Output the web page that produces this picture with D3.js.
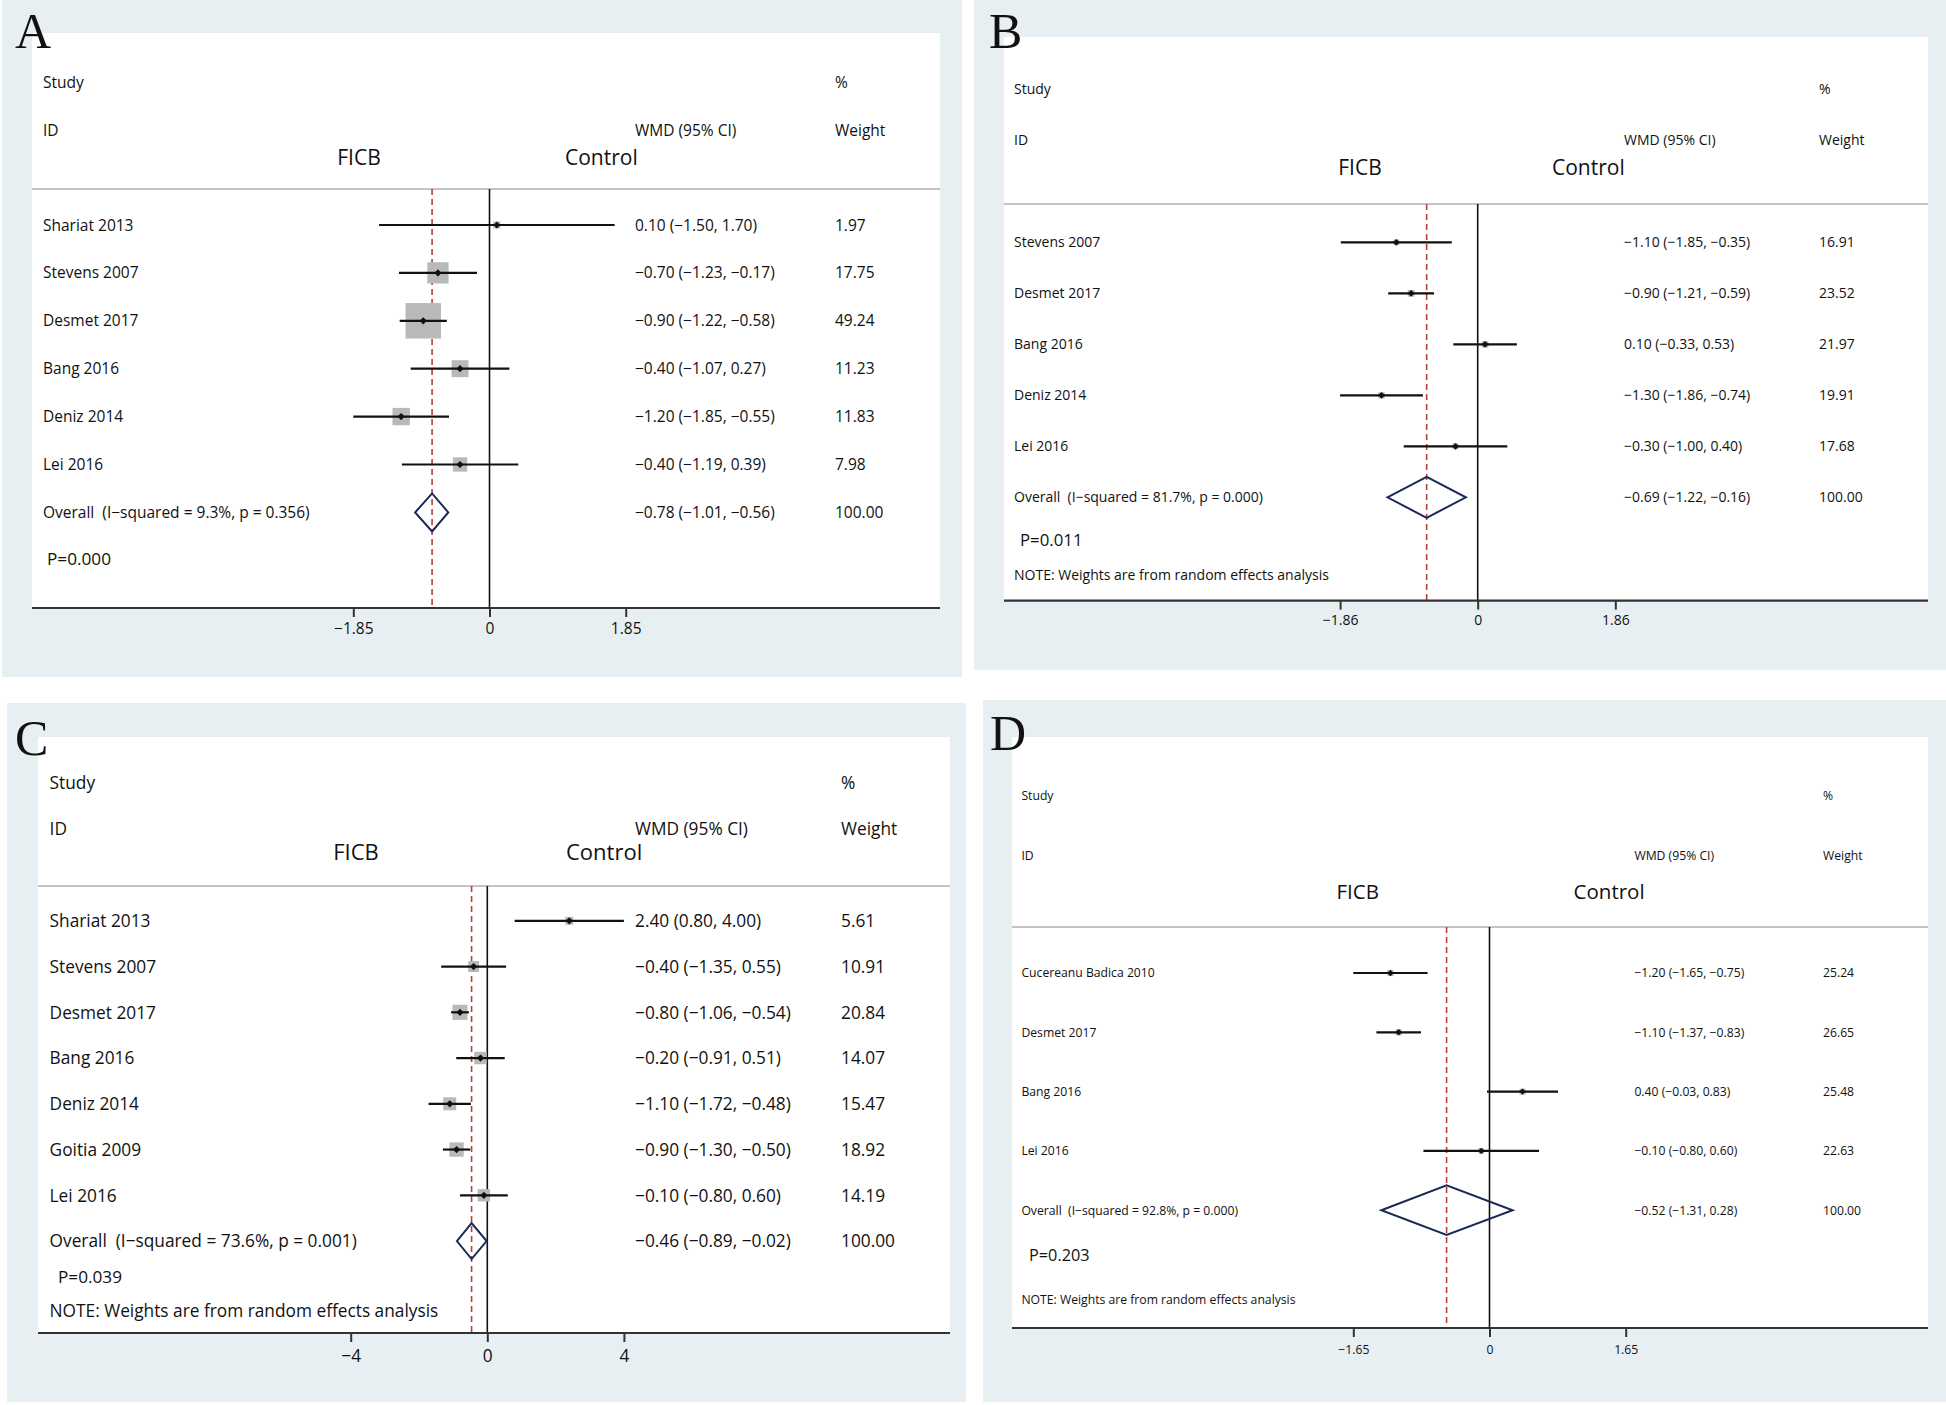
<!DOCTYPE html>
<html>
<head>
<meta charset="utf-8">
<script src="https://cdn.jsdelivr.net/npm/d3@7"></script>
<style>
  body { margin: 0; background: #fff; }
  svg text { font-family: "Open Sans", sans-serif; fill: #111; }
</style>
</head>
<body>
<svg id="chart" width="1946" height="1405"></svg>
<script>
// ---- data ----
var studiesA = ["Shariat 2013", "Stevens 2007", "Desmet 2017", "Bang 2016", "Deniz 2014", "Lei 2016"];
var wmdA     = [0.10, -0.70, -0.90, -0.40, -1.20, -0.40];
var lowA     = [-1.50, -1.23, -1.22, -1.07, -1.85, -1.19];
var highA    = [1.70, -0.17, -0.58, 0.27, -0.55, 0.39];
var weightA  = [1.97, 17.75, 49.24, 11.23, 11.83, 7.98];

var studiesB = ["Stevens 2007", "Desmet 2017", "Bang 2016", "Deniz 2014", "Lei 2016"];
var wmdB     = [-1.10, -0.90, 0.10, -1.30, -0.30];
var lowB     = [-1.85, -1.21, -0.33, -1.86, -1.00];
var highB    = [-0.35, -0.59, 0.53, -0.74, 0.40];
var weightB  = [16.91, 23.52, 21.97, 19.91, 17.68];

var studiesC = ["Shariat 2013", "Stevens 2007", "Desmet 2017", "Bang 2016", "Deniz 2014", "Goitia 2009", "Lei 2016"];
var wmdC     = [2.40, -0.40, -0.80, -0.20, -1.10, -0.90, -0.10];
var lowC     = [0.80, -1.35, -1.06, -0.91, -1.72, -1.30, -0.80];
var highC    = [4.00, 0.55, -0.54, 0.51, -0.48, -0.50, 0.60];
var weightC  = [5.61, 10.91, 20.84, 14.07, 15.47, 18.92, 14.19];

var studiesD = ["Cucereanu Badica 2010", "Desmet 2017", "Bang 2016", "Lei 2016"];
var wmdD     = [-1.20, -1.10, 0.40, -0.10];
var lowD     = [-1.65, -1.37, -0.03, -0.80];
var highD    = [-0.75, -0.83, 0.83, 0.60];
var weightD  = [25.24, 26.65, 25.48, 22.63];

// overall (pooled) rows, panels A..D
var overallWmd  = [-0.78, -0.69, -0.46, -0.52];
var overallLow  = [-1.01, -1.22, -0.89, -1.31];
var overallHigh = [-0.56, -0.16, -0.02, 0.28];
var iSquared    = [9.3, 81.7, 73.6, 92.8];
var pHetero     = [0.356, 0.000, 0.001, 0.000];
var pOverall    = [0.000, 0.011, 0.039, 0.203];
var hasNote     = [false, true, true, true];
var panelLetters = ["A", "B", "C", "D"];

var ticksA = [-1.85, 0, 1.85];
var ticksB = [-1.86, 0, 1.86];
var ticksC = [-4, 0, 4];
var ticksD = [-1.65, 0, 1.65];

var noteText = "NOTE: Weights are from random effects analysis";

// ---- layout of each panel (pixel positions only) ----
var layouts = [
  { bg: [2, 0, 962, 677], plot: [32, 33, 940, 608], letter: [15, 48],
    fs: 15.5, armFs: 21, pFs: 17.2, cols: [43, 635, 835],
    studyY: 88, idY: 136, armY: 165, ficbX: 359, controlX: 565, lineY: 189,
    rowY0: 225, rowStep: 47.9, pX: 47, pY: 565, noteY: null,
    xr: [353.3, 625.7], boxK: 5.05, diaH: 19, mark: 3.6, tickPad: 6 },
  { bg: [974, 0, 1946, 670], plot: [1004, 37, 1928, 600.6], letter: [989, 48],
    fs: 14, armFs: 21, pFs: 16.8, cols: [1014, 1624, 1819],
    studyY: 94, idY: 145, armY: 175, ficbX: 1360, controlX: 1552, lineY: 204,
    rowY0: 242.3, rowStep: 51, pX: 1020, pY: 546, noteY: 580,
    xr: [1340.1, 1615.3], boxK: 1.4, diaH: 20.5, mark: 3.4, tickPad: 5 },
  { bg: [7, 703, 966, 1402], plot: [38, 737, 950, 1333], letter: [15, 755],
    fs: 17.3, armFs: 22, pFs: 17.2, cols: [49.6, 635, 841],
    studyY: 789, idY: 835, armY: 860, ficbX: 356, controlX: 566, lineY: 886,
    rowY0: 920.8, rowStep: 45.75, pX: 58, pY: 1283, noteY: 1317,
    xr: [350.7, 623.9], boxK: 3.3, diaH: 18, mark: 3.6, tickPad: 7.5 },
  { bg: [983, 700, 1946, 1402], plot: [1012, 737, 1928, 1328], letter: [990, 750],
    fs: 12.2, armFs: 20.5, pFs: 16.3, cols: [1021.4, 1634.4, 1823],
    studyY: 800, idY: 860, armY: 899, ficbX: 1357.7, controlX: 1573.6, lineY: 927,
    rowY0: 973, rowStep: 59.3, pX: 1029, pY: 1261, noteY: 1304,
    xr: [1353.3, 1625.7], boxK: 1.2, diaH: 24.8, mark: 3.2, tickPad: 8 }
];

var panels = [
  { studies: studiesA, wmd: wmdA, low: lowA, high: highA, weight: weightA, ticks: ticksA },
  { studies: studiesB, wmd: wmdB, low: lowB, high: highB, weight: weightB, ticks: ticksB },
  { studies: studiesC, wmd: wmdC, low: lowC, high: highC, weight: weightC, ticks: ticksC },
  { studies: studiesD, wmd: wmdD, low: lowD, high: highD, weight: weightD, ticks: ticksD }
];

var svg = d3.select("#chart");
var f2 = d3.format(".2f");      // d3 uses the proper minus sign
var pctFmt = d3.format(".1f");
var p3 = d3.format(".3f");

function ciText(m, lo, hi) {
  return f2(m) + " (" + f2(lo) + ", " + f2(hi) + ")";
}

function drawPanel(k) {
  var L = layouts[k], P = panels[k];
  var g = svg.append("g");
  var n = P.studies.length;

  // background + white plot area
  g.append("rect").attr("x", L.bg[0]).attr("y", L.bg[1])
    .attr("width", L.bg[2] - L.bg[0]).attr("height", L.bg[3] - L.bg[1])
    .attr("fill", "#e8eff2");
  g.append("rect").attr("x", L.plot[0]).attr("y", L.plot[1])
    .attr("width", L.plot[2] - L.plot[0]).attr("height", L.plot[3] - L.plot[1])
    .attr("fill", "#fff");

  g.append("text").attr("x", L.letter[0]).attr("y", L.letter[1])
    .style("font-family", "'Liberation Serif', 'DejaVu Serif', serif")
    .style("font-size", "50px").text(panelLetters[k]);

  var x = d3.scaleLinear().domain([P.ticks[0], P.ticks[2]]).range(L.xr);
  var y = d3.scaleLinear().domain([0, 1]).range([L.rowY0, L.rowY0 + L.rowStep]);
  var axisY = L.plot[3];

  // header texts
  var hdr = g.append("g").style("font-size", L.fs + "px");
  hdr.append("text").attr("x", L.cols[0]).attr("y", L.studyY).text("Study");
  hdr.append("text").attr("x", L.cols[2]).attr("y", L.studyY).text("%");
  hdr.append("text").attr("x", L.cols[0]).attr("y", L.idY).text("ID");
  hdr.append("text").attr("x", L.cols[1]).attr("y", L.idY).text("WMD (95% CI)");
  hdr.append("text").attr("x", L.cols[2]).attr("y", L.idY).text("Weight");

  g.append("text").attr("x", L.ficbX).attr("y", L.armY).attr("text-anchor", "middle")
    .style("font-size", L.armFs + "px").text("FICB");
  g.append("text").attr("x", L.controlX).attr("y", L.armY)
    .style("font-size", L.armFs + "px").text("Control");

  // header rule
  g.append("line").attr("x1", L.plot[0]).attr("x2", L.plot[2])
    .attr("y1", L.lineY).attr("y2", L.lineY)
    .attr("stroke", "#c4c4c4").attr("stroke-width", 2);

  // no-effect line and pooled estimate line
  g.append("line").attr("x1", x(0)).attr("x2", x(0))
    .attr("y1", L.lineY).attr("y2", axisY)
    .attr("stroke", "#111").attr("stroke-width", 1.6);
  g.append("line").attr("x1", x(overallWmd[k])).attr("x2", x(overallWmd[k]))
    .attr("y1", L.lineY).attr("y2", axisY)
    .attr("stroke", "#b5403c").attr("stroke-width", 1.6)
    .attr("stroke-dasharray", "6,4");

  var rows = d3.range(n);

  // weight boxes
  g.selectAll(".box").data(rows).enter().append("rect")
    .attr("x", function(i) { return x(P.wmd[i]) - L.boxK * Math.sqrt(P.weight[i]) / 2; })
    .attr("y", function(i) { return y(i) - L.boxK * Math.sqrt(P.weight[i]) / 2; })
    .attr("width", function(i) { return L.boxK * Math.sqrt(P.weight[i]); })
    .attr("height", function(i) { return L.boxK * Math.sqrt(P.weight[i]); })
    .attr("fill", "#b9b9b9");

  // confidence intervals
  g.selectAll(".ci").data(rows).enter().append("line")
    .attr("x1", function(i) { return x(P.low[i]); })
    .attr("x2", function(i) { return x(P.high[i]); })
    .attr("y1", function(i) { return y(i); })
    .attr("y2", function(i) { return y(i); })
    .attr("stroke", "#111").attr("stroke-width", 2.2);

  // point estimate markers (small diamonds)
  var mk = d3.symbol().type(d3.symbolSquare).size(2 * L.mark * L.mark);
  g.selectAll(".pt").data(rows).enter().append("path")
    .attr("d", mk)
    .attr("transform", function(i) { return "translate(" + x(P.wmd[i]) + "," + y(i) + ") rotate(45)"; })
    .attr("fill", "#111");

  // pooled diamond
  var oy = y(n);
  g.append("path")
    .attr("d", d3.line()([[x(overallLow[k]), oy], [x(overallWmd[k]), oy - L.diaH],
                          [x(overallHigh[k]), oy], [x(overallWmd[k]), oy + L.diaH]]) + "Z")
    .attr("fill", "none").attr("stroke", "#1b2858").attr("stroke-width", 2);

  // row texts
  var txt = g.append("g").style("font-size", L.fs + "px");
  txt.selectAll(".lab").data(rows).enter().append("text")
    .attr("x", L.cols[0]).attr("y", function(i) { return y(i); }).attr("dy", "0.36em")
    .text(function(i) { return P.studies[i]; });
  txt.selectAll(".ci-t").data(rows).enter().append("text")
    .attr("x", L.cols[1]).attr("y", function(i) { return y(i); }).attr("dy", "0.36em")
    .text(function(i) { return ciText(P.wmd[i], P.low[i], P.high[i]); });
  txt.selectAll(".w-t").data(rows).enter().append("text")
    .attr("x", L.cols[2]).attr("y", function(i) { return y(i); }).attr("dy", "0.36em")
    .text(function(i) { return f2(P.weight[i]); });

  txt.append("text").attr("x", L.cols[0]).attr("y", oy).attr("dy", "0.36em")
    .style("white-space", "pre")
    .text("Overall  (I\u2212squared = " + pctFmt(iSquared[k]) + "%, p = " + p3(pHetero[k]) + ")");
  txt.append("text").attr("x", L.cols[1]).attr("y", oy).attr("dy", "0.36em")
    .text(ciText(overallWmd[k], overallLow[k], overallHigh[k]));
  txt.append("text").attr("x", L.cols[2]).attr("y", oy).attr("dy", "0.36em")
    .text(f2(100));

  g.append("text").attr("x", L.pX).attr("y", L.pY)
    .style("font-size", L.pFs + "px").text("P=" + p3(pOverall[k]));

  if (hasNote[k]) {
    g.append("text").attr("x", L.cols[0]).attr("y", L.noteY)
      .style("font-size", L.fs + "px").text(noteText);
  }

  // bottom axis: full-width rule plus ticks
  g.append("line").attr("x1", L.plot[0]).attr("x2", L.plot[2])
    .attr("y1", axisY).attr("y2", axisY)
    .attr("stroke", "#333").attr("stroke-width", 2.2);

  var tf = k === 2 ? d3.format("d") : f2;
  var ax = g.append("g").attr("transform", "translate(0," + axisY + ")")
    .call(d3.axisBottom(x).tickValues(P.ticks).tickSize(9).tickPadding(L.tickPad)
      .tickFormat(function(d) { return d === 0 ? "0" : tf(d); }));
  ax.select(".domain").remove();
  ax.selectAll(".tick line").attr("stroke", "#333").attr("stroke-width", 2);
  ax.selectAll(".tick text").attr("fill", "#111")
    .style("font-family", "'Open Sans', sans-serif").style("font-size", L.fs + "px");
}

for (var k = 0; k < 4; k++) drawPanel(k);
</script>
</body>
</html>
